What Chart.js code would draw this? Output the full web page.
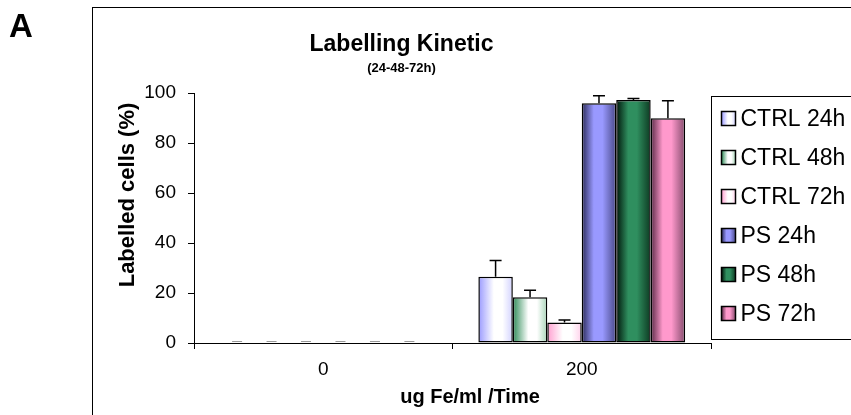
<!DOCTYPE html>
<html>
<head>
<meta charset="utf-8">
<script src="https://cdn.jsdelivr.net/npm/chart.js@4.4.1/dist/chart.umd.min.js"></script>
<style>
  body { margin: 0; background: #fff; }
  #wrap { position: relative; width: 851px; height: 415px; }
</style>
</head>
<body>
<div id="wrap"><canvas id="mainChart"></canvas></div>
<script>
// ============================
// Data
// ============================
const doses = ["0", "200"];
const seriesNames = ["CTRL 24h", "CTRL 48h", "CTRL 72h", "PS 24h", "PS 48h", "PS 72h"];
const ctrl24 = [0, 26.5];
const ctrl48 = [0, 18.3];
const ctrl72 = [0, 8.2];
const ps24 = [0, 96];
const ps48 = [0, 97.3];
const ps72 = [0, 90];
const err24c = [0, 6.5];
const err48c = [0, 2.8];
const err72c = [0, 1];
const err24p = [0, 3];
const err48p = [0, 0.6];
const err72p = [0, 7];
const yTicks = [0, 20, 40, 60, 80, 100];

const FONT = "Arial, 'Liberation Sans'";

// gradient stops per series: left edge, middle, right edge
const shades = [
  ["#9a9aff", "#ffffff", "#d2d2ff"],
  ["#2e8b57", "#ffffff", "#a8d5b8"],
  ["#ff9fd0", "#ffffff", "#ffd0ea"],
  ["#2a2a58", "#9999ff", "#4a4a8a"],
  ["#00150a", "#2f8f5f", "#0d3a22"],
  ["#582844", "#ff99cc", "#864c6e"]
];

function barGradient(ctx, x0, x1, stops, i) {
  const g = ctx.createLinearGradient(x0, 0, x1, 0);
  if (i < 3) {
    g.addColorStop(0, stops[0]);
    g.addColorStop(0.45, stops[1]);
    g.addColorStop(0.7, stops[1]);
    g.addColorStop(1, stops[2]);
  } else {
    g.addColorStop(0, stops[0]);
    g.addColorStop(0.35, stops[1]);
    g.addColorStop(0.6, stops[1]);
    g.addColorStop(1, stops[2]);
  }
  return g;
}

function fillFor(i) {
  return function(context) {
    const el = context.element;
    if (!el || el.x == null || isNaN(el.x) || !el.width) return shades[i][1];
    return barGradient(context.chart.ctx, el.x - el.width / 2, el.x + el.width / 2, shades[i], i);
  };
}

const values = [ctrl24, ctrl48, ctrl72, ps24, ps48, ps72];
const errors = [err24c, err48c, err72c, err24p, err48p, err72p];

// ============================
// Error bars (upper only)
// ============================
const errorBarPlugin = {
  id: "errorBars",
  afterDatasetsDraw(chart) {
    const { ctx, scales } = chart;
    ctx.save();
    ctx.lineWidth = 1.5;
    chart.data.datasets.forEach((ds, di) => {
      const meta = chart.getDatasetMeta(di);
      meta.data.forEach((bar, j) => {
        const e = errors[di][j];
        const yTop = scales.y.getPixelForValue(ds.data[j] + e);
        ctx.beginPath();
        if (e) {
          ctx.strokeStyle = "#000";
          ctx.moveTo(bar.x, bar.y);
          ctx.lineTo(bar.x, yTop);
        } else {
          // zero error: only the cap shows, as a faint dash
          ctx.strokeStyle = "#999";
          ctx.lineWidth = 1;
          ctx.moveTo(bar.x - 5, yTop - 1.5);
          ctx.lineTo(bar.x + 5, yTop - 1.5);
          ctx.stroke();
          ctx.lineWidth = 1.5;
          return;
        }
        ctx.moveTo(bar.x - 6, yTop);
        ctx.lineTo(bar.x + 6, yTop);
        ctx.stroke();
      });
    });
    ctx.restore();
  }
};

// ============================
// Frame, panel letter, axis titles and legend
// ============================
const decorPlugin = {
  id: "decor",
  afterDraw(chart) {
    const { ctx, chartArea } = chart;
    ctx.save();
    // outer frame
    ctx.strokeStyle = "#000";
    ctx.lineWidth = 1;
    ctx.strokeRect(92.5, 7.5, 800, 430);

    // panel letter
    ctx.fillStyle = "#000";
    ctx.font = "bold 33px " + FONT;
    ctx.textBaseline = "alphabetic";
    ctx.fillText("A", 9, 37);

    // axis titles
    ctx.font = "bold 20px " + FONT;
    ctx.textAlign = "center";
    ctx.textBaseline = "middle";
    ctx.fillText("ug Fe/ml /Time", 470, 397);
    ctx.save();
    ctx.translate(128, 195);
    ctx.rotate(-Math.PI / 2);
    ctx.font = "bold 22px " + FONT;
    ctx.fillText("Labelled cells (%)", 0, 0);
    ctx.restore();
    ctx.textAlign = "left";

    // legend box
    const lx = Math.round(chartArea.right) + 0.5;
    const ly = 96.5;
    ctx.strokeStyle = "#000";
    ctx.strokeRect(lx, ly, 200, 243);

    ctx.font = "23px " + FONT;
    ctx.textBaseline = "middle";
    seriesNames.forEach((name, i) => {
      const cy = ly + 22 + i * 39;
      const bx = lx + 10;
      ctx.fillStyle = barGradient(ctx, bx, bx + 14, shades[i], i);
      ctx.fillRect(bx, cy - 7, 14, 14);
      ctx.lineWidth = 1.5;
      ctx.strokeRect(bx, cy - 7, 14, 14);
      ctx.fillStyle = "#000";
      ctx.fillText(name, bx + 19, cy + 1);
    });
    ctx.restore();
  }
};

const ctx = document.getElementById("mainChart").getContext("2d");

const mainChart = new Chart(ctx, {
  type: "bar",
  data: {
    labels: doses,
    datasets: values.map((v, i) => ({
      label: seriesNames[i],
      data: v,
      backgroundColor: fillFor(i),
      borderColor: "#000",
      borderWidth: 1.5,
      borderSkipped: false,
      categoryPercentage: 0.8,
      barPercentage: 1.0
    }))
  },
  options: {
    responsive: true,
    maintainAspectRatio: false,
    animation: false,
    layout: { padding: { left: 92, right: 140, top: 15, bottom: 0 } },
    plugins: {
      legend: { display: false },
      tooltip: { enabled: false },
      title: {
        display: true,
        text: "Labelling Kinetic",
        color: "#000",
        font: { family: FONT, size: 23, weight: "bold" },
        padding: { top: 16, bottom: 2 }
      },
      subtitle: {
        display: true,
        text: "(24-48-72h)",
        color: "#000",
        font: { family: FONT, size: 13, weight: "bold" },
        padding: { top: 0, bottom: 17 }
      }
    },
    scales: {
      x: {
        afterFit(scale) { scale.height = 72; },
        grid: { offset: true, drawOnChartArea: false, tickLength: 6, color: "#000" },
        border: { color: "#000", width: 1 },
        ticks: {
          color: "#000",
          padding: 9,
          font: { family: FONT, size: 19 }
        },
        title: { display: false }
      },
      y: {
        min: 0,
        max: 100,
        afterFit(scale) { scale.width = 102; },
        afterBuildTicks(scale) { scale.ticks = yTicks.map(v => ({ value: v })); },
        grid: { drawOnChartArea: false, tickLength: 6, color: "#000" },
        border: { color: "#000", width: 1 },
        ticks: {
          color: "#000",
          padding: 12,
          font: { family: FONT, size: 19 }
        },
        title: { display: false }
      }
    }
  },
  plugins: [errorBarPlugin, decorPlugin]
});

// second pass so the bar gradients can use the laid-out bar positions
mainChart.update("none");
</script>
</body>
</html>
